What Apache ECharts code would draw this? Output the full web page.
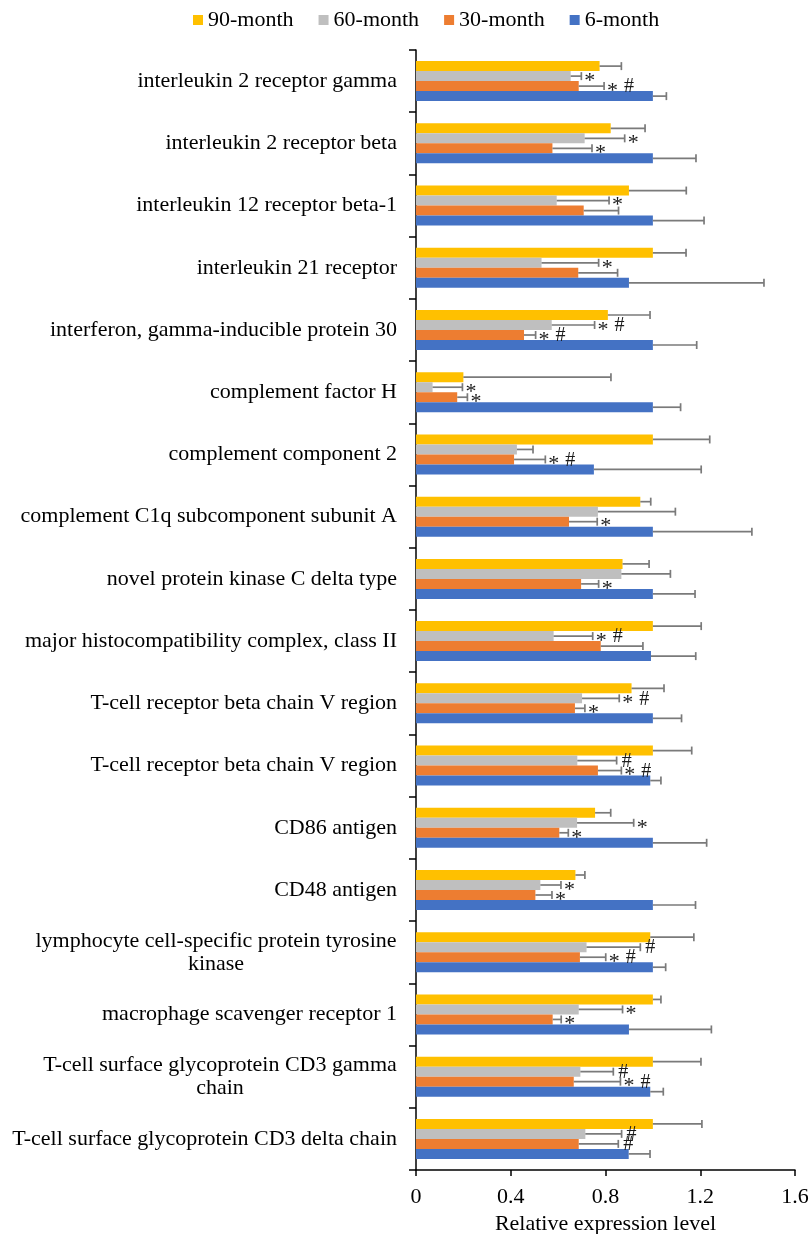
<!DOCTYPE html>
<html>
<head>
<meta charset="utf-8">
<script src="https://cdn.jsdelivr.net/npm/echarts@6/dist/echarts.min.js"></script>
<style>
  html, body { margin: 0; padding: 0; background: #fff; }
  #chart { width: 811px; height: 1234px; }
</style>
</head>
<body>
<div id="chart"></div>
<script>
// Gene categories, top to bottom
const categories = [
  'interleukin 2 receptor gamma',
  'interleukin 2 receptor beta',
  'interleukin 12 receptor beta-1',
  'interleukin 21 receptor',
  'interferon, gamma-inducible protein 30',
  'complement factor H',
  'complement component 2',
  'complement C1q subcomponent subunit A',
  'novel protein kinase C delta type',
  'major histocompatibility complex, class II',
  'T-cell receptor beta chain V region',
  'T-cell receptor beta chain V region',
  'CD86 antigen',
  'CD48 antigen',
  'lymphocyte cell-specific protein tyrosine\nkinase',
  'macrophage scavenger receptor 1',
  'T-cell surface glycoprotein CD3 gamma\nchain',
  'T-cell surface glycoprotein CD3 delta chain'
];

const seriesNames = ['90-month', '60-month', '30-month', '6-month'];

// Relative expression (mean) per time point
const m90 = [0.775, 0.822, 0.899, 1.0, 0.810, 0.200, 1.0, 0.947, 0.872, 1.0, 0.910, 1.0, 0.756, 0.673, 0.989, 1.0, 1.0, 1.0];
const m60 = [0.653, 0.712, 0.594, 0.530, 0.573, 0.070, 0.426, 0.768, 0.867, 0.581, 0.701, 0.681, 0.680, 0.525, 0.720, 0.687, 0.694, 0.715];
const m30 = [0.687, 0.576, 0.708, 0.685, 0.456, 0.174, 0.414, 0.646, 0.697, 0.780, 0.671, 0.768, 0.605, 0.504, 0.692, 0.577, 0.666, 0.687];
const m6  = [1.0, 1.0, 1.0, 0.899, 1.0, 1.0, 0.751, 1.0, 1.0, 0.992, 1.0, 0.989, 1.0, 1.0, 1.0, 0.899, 0.989, 0.898];

// Standard deviations (upper error bar length)
const sd90 = [0.092, 0.145, 0.242, 0.140, 0.178, 0.623, 0.240, 0.044, 0.112, 0.204, 0.137, 0.164, 0.066, 0.040, 0.184, 0.034, 0.203, 0.207];
const sd60 = [0.045, 0.169, 0.221, 0.241, 0.181, 0.126, 0.068, 0.327, 0.207, 0.165, 0.157, 0.166, 0.239, 0.087, 0.227, 0.185, 0.139, 0.153];
const sd30 = [0.107, 0.167, 0.147, 0.166, 0.049, 0.043, 0.132, 0.119, 0.074, 0.178, 0.042, 0.099, 0.038, 0.070, 0.109, 0.036, 0.197, 0.167];
const sd6  = [0.057, 0.182, 0.216, 0.570, 0.185, 0.117, 0.453, 0.418, 0.178, 0.189, 0.121, 0.045, 0.227, 0.180, 0.054, 0.348, 0.055, 0.090];

// Significance marks (* vs 6-month, # vs 90-month)
const sig90 = ['', '', '', '', '', '', '', '', '', '', '', '', '', '', '', '', '', ''];
const sig60 = ['*', '*', '*', '*', '* #', '*', '', '', '', '* #', '* #', '#', '*', '*', '#', '*', '#', '#'];
const sig30 = ['* #', '*', '', '', '* #', '*', '* #', '*', '*', '', '*', '* #', '*', '*', '* #', '*', '* #', '#'];
const sig6  = ['', '', '', '', '', '', '', '', '', '', '', '', '', '', '', '', '', ''];

const xTicks = { min: 0, max: 1.6, interval: 0.4 };

const colors = ['#FFC000', '#BFBFBF', '#ED7D31', '#4472C4'];
const means = [m90, m60, m30, m6];
const sds = [sd90, sd60, sd30, sd6];
const sigs = [sig90, sig60, sig30, sig6];

const FONT = '"Liberation Serif", "Times New Roman", serif';
const FS = 22;
const BAR_W = 10;

// Two-line labels: centre the second line under the first
const measureCtx = document.createElement('canvas').getContext('2d');
measureCtx.font = FS + 'px ' + FONT;
const rich = {};
categories.forEach((c, i) => {
  if (c.indexOf('\n') >= 0) {
    const w = Math.max(...c.split('\n').map(l => measureCtx.measureText(l).width));
    rich['L' + i] = { width: Math.ceil(w), align: 'center', fontSize: FS, fontFamily: FONT, color: '#000', lineHeight: 23 };
  }
});

// Error-bar records for the custom series
const errRecords = [];
means.forEach((arr, s) => {
  arr.forEach((v, i) => {
    errRecords.push({ s, i, v, sd: sds[s][i], sig: sigs[s][i] });
  });
});

const chart = echarts.init(document.getElementById('chart'), null, { renderer: 'canvas' });

const barSeries = seriesNames.map((name, s) => ({
  name,
  type: 'bar',
  data: means[s],
  barWidth: BAR_W,
  barGap: '0%',
  itemStyle: { color: colors[s] },
  z: 2
}));

const errorSeries = {
  type: 'custom',
  name: 'error',
  data: errRecords.map(r => [r.v, r.i, r.v + r.sd]),
  encode: { x: [0, 2], y: 1 },
  z: 3,
  silent: true,
  renderItem(params, api) {
    const r = errRecords[params.dataIndex];
    const base = api.coord([r.v, r.i]);
    const end = api.coord([r.v + r.sd, r.i]);
    const y = base[1] + (r.s - 1.5) * BAR_W;
    const capH = 4;
    const lineStyle = { stroke: '#7a7a7a', lineWidth: 1.7 };
    const children = [
      { type: 'line', shape: { x1: base[0], y1: y, x2: end[0], y2: y }, style: lineStyle },
      { type: 'line', shape: { x1: end[0], y1: y - capH, x2: end[0], y2: y + capH }, style: lineStyle }
    ];
    const marks = r.sig ? r.sig.split(' ') : [];
    const x = end[0];
    marks.forEach((m) => {
      let tx;
      if (m === '*') tx = x + 3;
      else tx = marks.length > 1 ? x + 20 : x + 5;
      children.push({
        type: 'text',
        x: tx,
        y: y + (m === '*' ? 5 : 1),
        style: {
          text: m,
          fill: '#1a1a1a',
          font: (m === '*' ? '22px ' : '20px ') + FONT,
          textAlign: 'left',
          textVerticalAlign: 'middle'
        }
      });
    });
    return { type: 'group', children };
  }
};

chart.setOption({
  animation: false,
  backgroundColor: '#fff',
  legend: {
    data: seriesNames,
    top: 9,
    left: 193,
    padding: 0,
    itemWidth: 10,
    itemHeight: 10,
    itemGap: 25,
    icon: 'rect',
    textStyle: { fontSize: FS, fontFamily: FONT, color: '#000' }
  },
  grid: { left: 416, right: 16, top: 50, bottom: 64, containLabel: false, outerBoundsMode: 'none' },
  xAxis: {
    type: 'value',
    min: xTicks.min,
    max: xTicks.max,
    interval: xTicks.interval,
    name: 'Relative expression level',
    nameLocation: 'middle',
    nameGap: 41,
    nameTextStyle: { fontSize: FS, fontFamily: FONT, color: '#000' },
    axisLine: { show: true, lineStyle: { color: '#000', width: 1.5 } },
    axisTick: { show: true, inside: false, length: 6, lineStyle: { color: '#000', width: 1.5 } },
    splitLine: { show: false },
    axisLabel: { fontSize: FS, fontFamily: FONT, color: '#000', margin: 16 }
  },
  yAxis: {
    type: 'category',
    inverse: true,
    data: categories,
    axisLine: { show: true, lineStyle: { color: '#000', width: 1.5 } },
    axisTick: { show: true, inside: false, length: 7, lineStyle: { color: '#000', width: 1.5 } },
    splitLine: { show: false },
    axisLabel: {
      fontSize: FS,
      fontFamily: FONT,
      color: '#000',
      margin: 19,
      interval: 0,
      formatter(value, index) {
        if (value.indexOf('\n') >= 0) {
          return value.split('\n').map(l => '{L' + index + '|' + l + '}').join('\n');
        }
        return value;
      },
      rich
    }
  },
  series: [...barSeries, errorSeries]
});
</script>
</body>
</html>
